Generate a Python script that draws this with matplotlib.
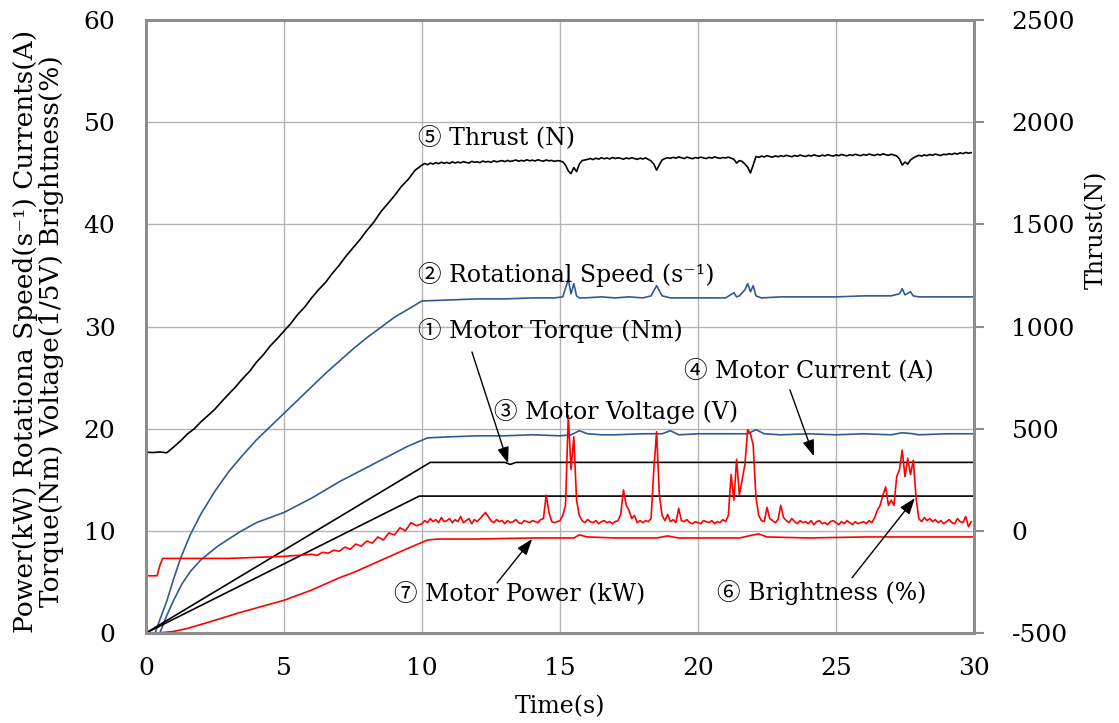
import numpy as np
import matplotlib
matplotlib.use("Agg")
import matplotlib.pyplot as plt

plt.rcParams['font.family'] = ['DejaVu Serif', 'Noto Sans CJK JP', 'DejaVu Sans']
plt.rcParams['axes.unicode_minus'] = False

BLUE = '#2f5b94'
RED = '#ff0000'

# Thrust (N), right axis
thrust_t_pre = np.arange(0, 10, 0.25)
thrust_pre = [385, 383, 386, 382, 410, 440, 474, 500, 535, 565,
              596, 634, 670, 705, 745, 780, 825, 862, 905, 940,
              978, 1015, 1060, 1095, 1140, 1180, 1215, 1260, 1300, 1345,
              1385, 1425, 1470, 1510, 1560, 1600, 1640, 1685, 1720, 1765]
thrust_post = [1790, 1798, 1792, 1800, 1795, 1802, 1797, 1804, 1799, 1803,
               1798, 1806, 1800, 1805, 1801, 1807, 1803, 1800, 1808, 1804,
               1806, 1802, 1810, 1805, 1808, 1803, 1811, 1806, 1809, 1812,
               1807, 1813, 1808, 1811, 1815, 1809, 1813, 1810, 1816, 1811,
               1814, 1810, 1816, 1812, 1809, 1815, 1811, 1813, 1808, 1812,
               1810, 1806, 1790, 1762, 1748, 1778, 1758, 1795, 1812, 1815,
               1818, 1822, 1817, 1824, 1819, 1826, 1821, 1825, 1820, 1827,
               1822, 1826, 1823, 1819, 1825, 1821, 1826, 1822, 1818, 1824,
               1820, 1825, 1818, 1810, 1795, 1765, 1792, 1815, 1822, 1826,
               1823, 1828, 1824, 1830, 1826, 1822, 1829, 1825, 1821, 1827,
               1824, 1829, 1825, 1822, 1828, 1824, 1830, 1826, 1823, 1827,
               1825, 1829, 1824, 1818, 1800, 1812, 1808, 1795, 1780, 1752,
               1790, 1832, 1828, 1834, 1830, 1836, 1832, 1829, 1835, 1831,
               1836, 1832, 1838, 1834, 1831, 1837, 1833, 1839, 1835, 1832,
               1838, 1834, 1840, 1836, 1833, 1839, 1835, 1841, 1837, 1834,
               1840, 1836, 1842, 1838, 1835, 1841, 1837, 1843, 1839, 1836,
               1842, 1838, 1844, 1840, 1837, 1843, 1839, 1845, 1841, 1838,
               1843, 1839, 1835, 1820, 1790, 1805, 1795, 1815, 1825, 1832,
               1838, 1834, 1840, 1836, 1842, 1838, 1844, 1840, 1837, 1843,
               1841, 1846, 1842, 1848, 1844, 1850, 1846, 1852, 1848, 1851]

# Rotational speed (1/s)
speed_t = [0, 0.33, 0.5, 0.75, 1.0, 1.25, 1.6, 2.0, 2.5, 3.0, 3.5, 4.0, 4.5, 5.0, 5.5,
           6.0, 6.5, 7.0, 7.5, 8.0, 8.5, 9.0, 9.5, 10.0,
           11, 12, 13, 14, 14.8, 15.1, 15.3, 15.4, 15.5, 15.6, 15.7, 15.9, 16.5, 17.0, 17.5,
           18.0, 18.3, 18.5, 18.7, 19.0, 20, 21.0, 21.3, 21.4, 21.5, 21.7, 21.8, 21.9, 22.0,
           22.1, 22.3, 23, 24, 25, 26, 27.0, 27.3, 27.4, 27.5, 27.7, 27.8, 28.0, 29, 30]
speed = [0, 0, 1.3, 3.1, 5.3, 7.3, 9.6, 11.7, 13.9, 15.8, 17.4, 18.9, 20.2, 21.5, 22.8,
         24.1, 25.4, 26.6, 27.8, 28.9, 29.9, 30.9, 31.7, 32.5,
         32.6, 32.7, 32.7, 32.8, 32.8, 32.9, 34.6, 33.2, 34.2, 33.0, 32.8, 32.8, 32.9, 32.8, 32.9,
         32.8, 33.0, 34.0, 33.0, 32.8, 32.8, 32.8, 33.3, 32.9, 33.0, 33.6, 34.2, 33.4, 34.0,
         33.0, 32.8, 32.9, 32.9, 32.9, 33.0, 33.0, 33.2, 33.7, 33.1, 33.4, 33.0, 32.9, 32.9, 32.9]

# Motor current (A)
current_t = [0, 0.5, 0.75, 1.0, 1.3, 1.6, 2.0, 2.6, 3.0, 3.4, 4.0, 4.5, 5.0, 5.5, 6.0, 6.5,
             7.0, 7.5, 8.0, 8.5, 9.0, 9.5, 10.2,
             11, 12, 13, 14, 15, 15.4, 15.7, 16.0, 16.5, 17, 18, 18.7, 19.0, 19.3,
             20, 21, 21.8, 22.1, 22.4, 23, 24, 25, 26, 27, 27.4, 27.8, 28, 29, 30]
current = [0, 0, 1.7, 3.2, 4.8, 6.0, 7.2, 8.5, 9.2, 9.9, 10.8, 11.3, 11.8, 12.5, 13.2, 14.0,
           14.8, 15.5, 16.2, 16.9, 17.6, 18.3, 19.1,
           19.2, 19.3, 19.3, 19.4, 19.3, 19.4, 19.8, 19.5, 19.4, 19.4, 19.5, 19.5, 19.8, 19.4,
           19.5, 19.5, 19.5, 19.9, 19.5, 19.4, 19.5, 19.4, 19.5, 19.4, 19.6, 19.5, 19.4, 19.5, 19.5]

# Motor torque (Nm) and voltage (1/5 V)
torque_t = [0, 10.3, 13.0, 13.2, 13.4, 30]
torque = [0, 16.7, 16.7, 16.5, 16.7, 16.7]
voltage_t = [0, 9.9, 30]
voltage = [0, 13.4, 13.4]

# Brightness (%)
bright_t_pre = [0, 0.4, 0.5, 0.6, 1.0, 2.0, 3.0, 4.0, 5.0, 5.5, 6.0, 6.2, 6.4, 6.6, 6.8, 7.0,
                7.2, 7.4, 7.6, 7.8, 8.0, 8.2, 8.4, 8.6, 8.8, 9.0, 9.2, 9.4, 9.6, 9.8]
bright_pre = [5.6, 5.6, 6.6, 7.3, 7.3, 7.3, 7.3, 7.4, 7.5, 7.6, 7.7, 7.6, 7.9, 7.8, 8.1, 8.0,
              8.4, 8.2, 8.7, 8.5, 9.0, 8.8, 9.4, 9.1, 9.8, 9.6, 10.3, 10.0, 10.8, 10.5]
bright_post = [10.7, 11.0, 10.8, 11.2, 10.9, 11.1, 10.8, 11.3, 10.9, 11.0,
               11.2, 10.8, 11.1, 10.9, 11.4, 10.8, 11.0, 11.2, 10.7, 11.1,
               10.9, 11.2, 11.5, 11.8, 11.4, 11.0, 10.8, 11.1, 10.9, 11.0,
               10.7, 11.0, 10.8, 10.9, 11.1, 10.8, 10.7, 11.0, 10.9, 10.8,
               11.0, 10.9, 10.8, 11.1, 11.2, 13.5, 11.8, 10.9, 10.8, 10.9,
               11.0, 11.5, 12.5, 21.3, 16.0, 19.2, 13.0, 11.5, 11.0, 10.8,
               11.1, 10.9, 10.8, 11.0, 10.7, 10.9, 11.0, 10.8, 10.9, 10.7,
               10.9, 11.0, 11.6, 14.0, 12.5, 12.0, 11.2, 11.5, 10.8, 11.0,
               10.8, 11.0, 10.9, 11.2, 16.0, 19.7, 13.5, 11.5, 11.0, 11.6,
               10.9, 11.1, 10.8, 12.2, 11.0, 10.9, 11.1, 10.8, 10.7, 10.9,
               10.8, 10.7, 11.0, 10.9, 10.8, 11.0, 10.7, 10.9, 10.8, 11.1,
               10.9, 11.5, 15.5, 13.0, 17.0, 13.5, 15.0, 16.5, 19.9, 19.5,
               18.4, 13.3, 11.5, 11.0, 10.9, 12.3, 11.2, 11.0, 10.8, 11.1,
               12.5, 11.3, 11.0, 10.8, 11.2, 10.9, 10.7, 11.0, 10.8, 10.9,
               10.7, 11.0, 10.6, 10.9, 11.0, 10.7, 10.8, 10.6, 10.9, 11.0,
               10.8, 10.6, 10.9, 10.7, 11.0, 10.8, 10.6, 10.9, 10.7, 10.8,
               10.9, 10.7, 11.0, 10.8, 11.3, 12.0, 12.5, 13.5, 14.3, 12.5,
               13.0, 12.5, 15.3, 16.0, 17.9, 15.3, 17.1, 15.5, 16.9, 13.3,
               11.2, 10.9, 11.3, 11.0, 11.2, 10.9, 11.1, 10.8, 11.0, 10.7,
               10.9, 11.1, 10.8, 10.7, 11.2, 10.9, 10.8, 11.4, 10.4, 10.9]

# Motor power (kW)
power_t = [0, 0.5, 1.0, 1.5, 2.2, 2.8, 3.4, 4.2, 5.0, 5.5, 6.0, 6.5, 7.0, 7.5, 8.0, 8.5,
           9.0, 9.5, 10.2, 10.6, 12, 14, 15.5, 15.7,
           16.0, 17, 18.5, 18.9, 19.3, 20, 21.5, 22.0, 22.2, 22.5, 24, 26, 28, 30]
power = [0, 0.02, 0.15, 0.45, 1.0, 1.5, 2.0, 2.6, 3.2, 3.7, 4.2, 4.8, 5.4, 5.9, 6.5, 7.1,
         7.7, 8.3, 9.1, 9.2, 9.2, 9.3, 9.3, 9.6,
         9.4, 9.3, 9.3, 9.5, 9.3, 9.3, 9.3, 9.6, 9.7, 9.4, 9.3, 9.4, 9.4, 9.4]

t_post = np.round(np.arange(10.0, 29.95, 0.1), 1)
thrust_t = np.concatenate([thrust_t_pre, t_post])
thrust = np.concatenate([thrust_pre, thrust_post])
bright_t = np.concatenate([bright_t_pre, t_post])
bright = np.concatenate([bright_pre, bright_post])

fig = plt.figure(figsize=(11.19, 7.23), dpi=100)
ax = fig.add_axes([0.1305, 0.1245, 0.7399, 0.8478])
ax2 = ax.twinx()

lw = 1.2
ax.plot(speed_t, speed, color=BLUE, lw=lw)
ax.plot(current_t, current, color=BLUE, lw=lw)
ax.plot(torque_t, torque, color='black', lw=lw)
ax.plot(voltage_t, voltage, color='black', lw=lw)
ax.plot(power_t, power, color=RED, lw=lw)
ax.plot(bright_t, bright, color=RED, lw=lw)
ax2.plot(thrust_t, thrust, color='black', lw=lw)

ax.set_xlim(0, 30)
ax.set_ylim(0, 60)
ax2.set_ylim(-500, 2500)
ax.set_xticks(range(0, 31, 5))
ax.set_yticks(range(0, 61, 10))
ax2.set_yticks(range(-500, 2501, 500))

ax.grid(True, color='#b4b4b4', lw=1)
ax.set_axisbelow(True)
for a in (ax, ax2):
    for s in a.spines.values():
        s.set_color('#8c8c8c')
        s.set_linewidth(2)

ax.tick_params(axis='both', length=0, labelsize=18)
ax.tick_params(axis='y', pad=22)
ax.tick_params(axis='x', pad=17)
ax2.tick_params(axis='y', length=7, width=1.5, color='#8c8c8c', labelsize=18, pad=20)

ax.set_xlabel('Time(s)', fontsize=17, labelpad=11)
fig.text(0.034, 0.542,
         'Power(kW) Rotationa Speed(s\u207b\u00b9) Currents(A)\nTorque(Nm) Voltage(1/5V) Brightness(%)',
         rotation=90, ha='center', va='center', multialignment='center',
         fontsize=19, linespacing=1.05)
fig.text(0.980, 0.682, 'Thrust(N)', rotation=90, ha='center', va='center', fontsize=17)

fs = 17
ax.text(9.86, 48.5, '\u2464 Thrust (N)', fontsize=fs, va='center')
ax.text(9.86, 35.1, '\u2461 Rotational Speed (s\u207b\u00b9)', fontsize=fs, va='center')
ax.text(9.86, 29.6, '\u2460 Motor Torque (Nm)', fontsize=fs, va='center')
ax.text(19.5, 25.7, '\u2463 Motor Current (A)', fontsize=fs, va='center')
ax.text(12.6, 21.7, '\u2462 Motor Voltage (V)', fontsize=fs, va='center')
ax.text(9.0, 3.9, '\u2466 Motor Power (kW)', fontsize=fs, va='center')
ax.text(20.7, 4.0, '\u2465 Brightness (%)', fontsize=fs, va='center')

arrow = dict(arrowstyle='-|>,head_length=0.7,head_width=0.25', color='black', lw=1,
             mutation_scale=14, shrinkA=0, shrinkB=0)
ax.annotate('', xy=(13.12, 16.6), xytext=(11.81, 27.5), arrowprops=arrow)
ax.annotate('', xy=(24.2, 17.3), xytext=(23.33, 23.8), arrowprops=arrow)
ax.annotate('', xy=(13.99, 9.2), xytext=(12.72, 4.9), arrowprops=arrow)
ax.annotate('', xy=(27.86, 13.2), xytext=(25.58, 5.4), arrowprops=arrow)

fig.savefig('out.png', dpi=100)
